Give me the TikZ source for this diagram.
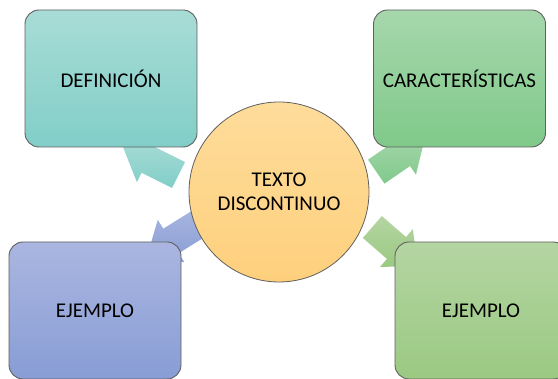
\documentclass[tikz,border=0pt]{standalone}
\usepackage{fontspec}
\setmainfont{Carlito}
\definecolor{tealT}{RGB}{168,220,214}
\definecolor{tealB}{RGB}{130,206,200}
\definecolor{grnT}{RGB}{166,215,172}
\definecolor{grnB}{RGB}{128,201,138}
\definecolor{bluT}{RGB}{170,182,224}
\definecolor{bluB}{RGB}{136,157,213}
\definecolor{lgrT}{RGB}{180,213,162}
\definecolor{lgrB}{RGB}{155,201,130}
\definecolor{orT}{RGB}{254,220,155}
\definecolor{orB}{RGB}{254,208,125}
\definecolor{edgegray}{RGB}{95,95,95}
\newcommand\blkarrow[5]{%
  \begin{scope}[shift={#1}, rotate=#2]
    \path[top color=#4, bottom color=#5]
      (-#3,-14.5) -- (0,-14.5) -- (0,-25) -- (28,0) -- (0,25) -- (0,14.5) -- (-#3,14.5) -- cycle;
  \end{scope}}
\tikzset{
  boxnode/.style={draw=edgegray, line width=0.9pt, rounded corners=14pt,
    minimum width=172pt, minimum height=137pt, inner sep=0pt,
    font=\fontsize{21}{24}\selectfont},
  hubnode/.style={circle, draw=edgegray, line width=0.8pt, minimum size=180pt,
    inner sep=0pt, align=center, font=\fontsize{21}{24}\selectfont}
}
\begin{document}
\begin{tikzpicture}[x=1pt, y=1pt]
  \useasboundingbox (0,0) rectangle (558,379);
  \clip (0,0) rectangle (558,379);
  % block arrows (under the shapes)
  \blkarrow{(148.1,219.2)}{153.4}{34}{tealT}{tealB}
  \blkarrow{(401.8,224.9)}{34.5}{31}{grnT}{grnB}
  \blkarrow{(171,138)}{212}{42}{bluT}{bluB}
  \blkarrow{(396.5,131)}{-41}{32}{lgrT}{lgrB}
  % boxes
  \node[boxnode, top color=tealT, bottom color=tealB] (def) at (111,300.5) {DEFINICIÓN};
  \node[boxnode, top color=grnT, bottom color=grnB] (car) at (459.5,300.5) {CARACTERÍSTICAS};
  \node[boxnode, top color=bluT, bottom color=bluB] (ejl) at (95,68.5) {EJEMPLO};
  \node[boxnode, top color=lgrT, bottom color=lgrB] (ejr) at (481,68.5) {EJEMPLO};
  % hub
  \node[hubnode, top color=orT, bottom color=orB] (hub) at (279,187) {TEXTO\\DISCONTINUO};
\end{tikzpicture}
\end{document}
